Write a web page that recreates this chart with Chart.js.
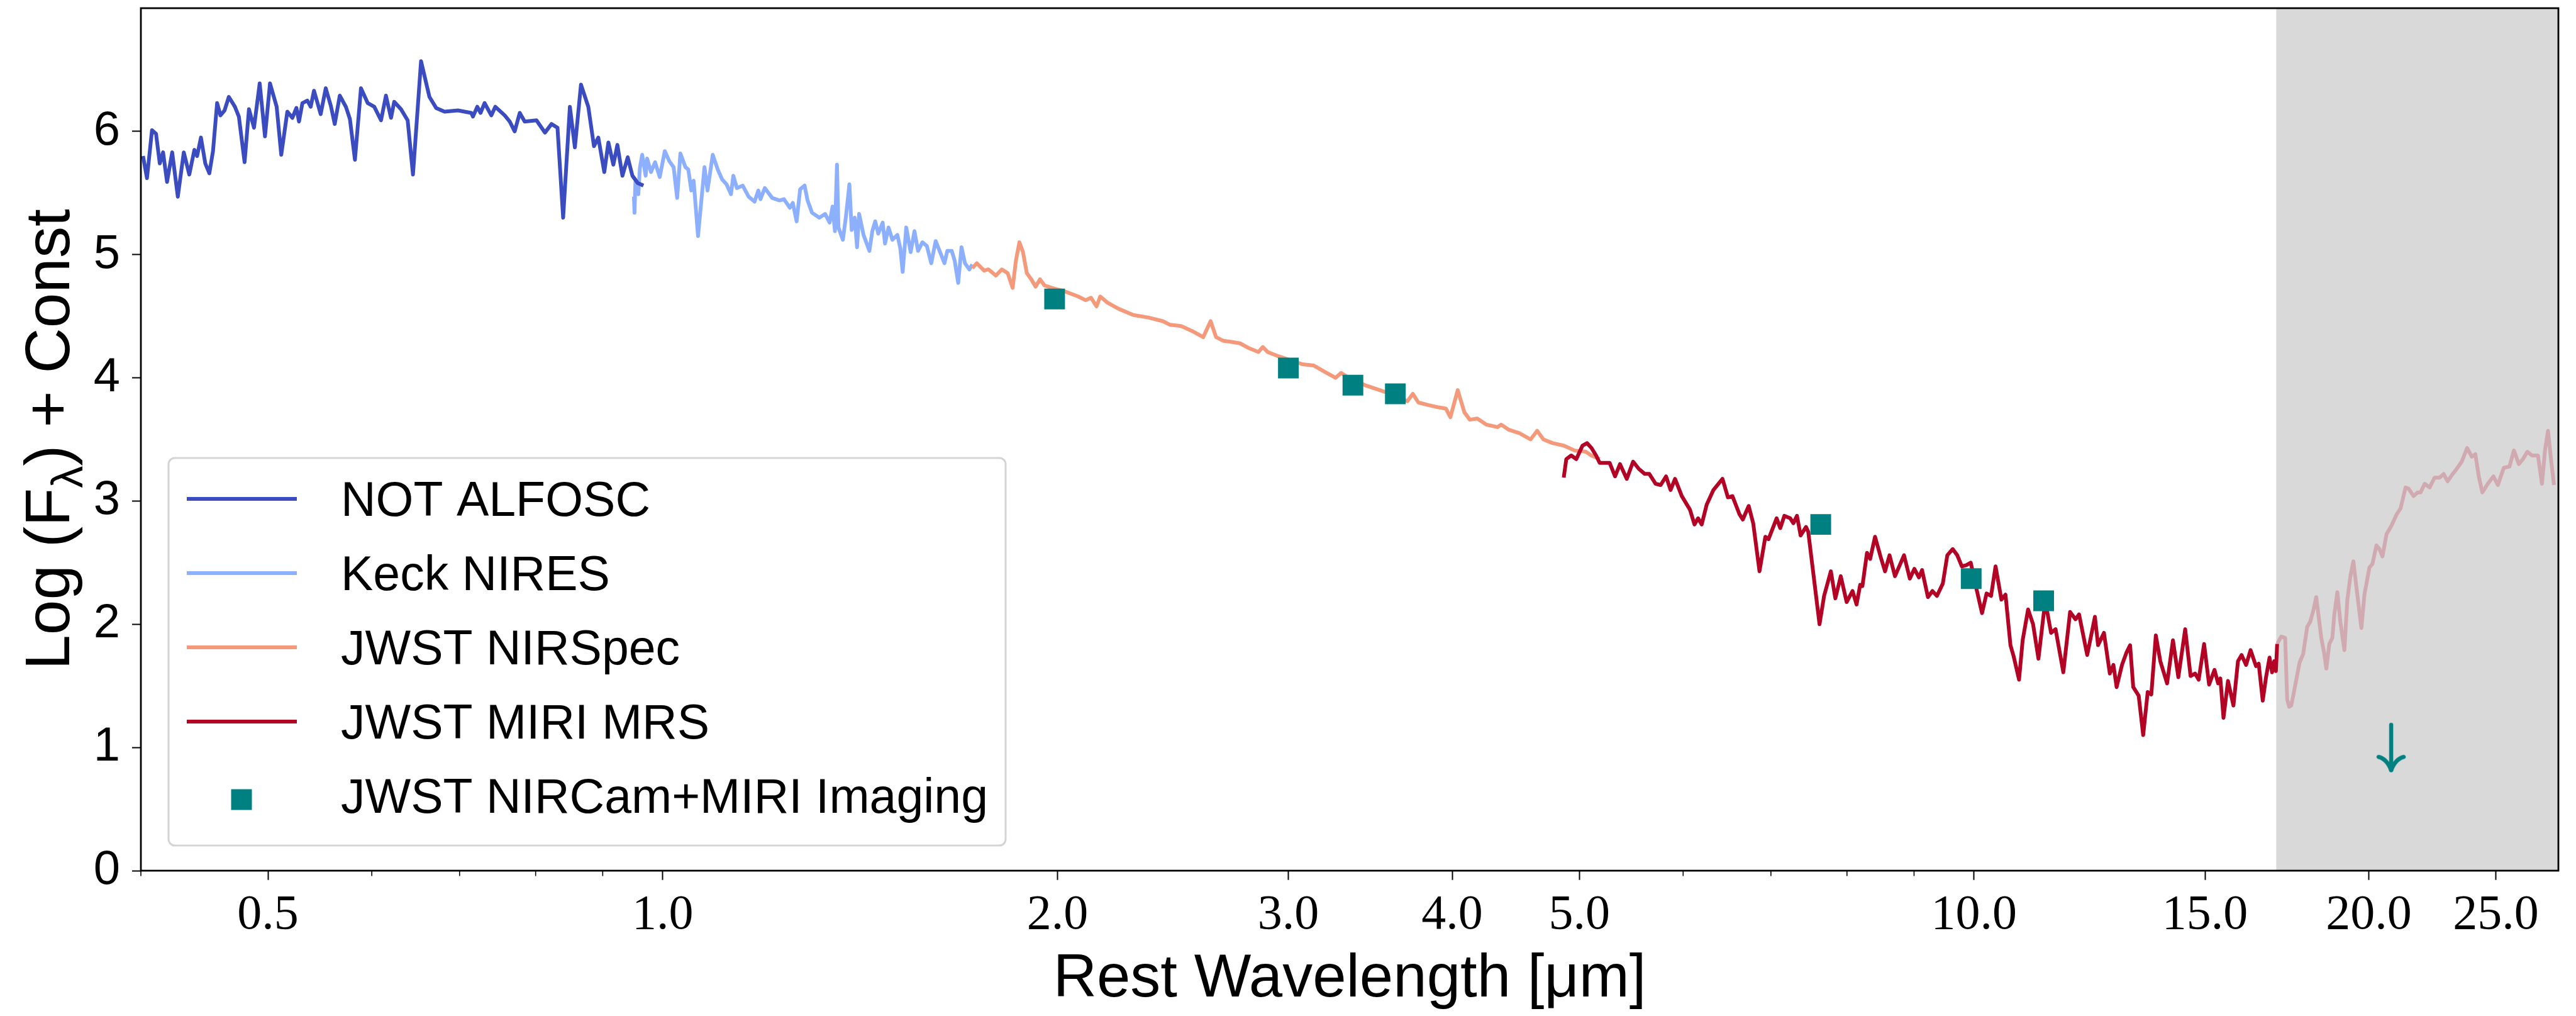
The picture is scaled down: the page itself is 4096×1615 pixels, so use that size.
<!DOCTYPE html>
<html>
<head>
<meta charset="utf-8">
<script src="https://cdn.jsdelivr.net/npm/chart.js@4.4.1/dist/chart.umd.min.js"></script>
<style>
  html, body { margin: 0; padding: 0; background: #fff; }
  #wrap { width: 4096px; height: 1615px; }
</style>
</head>
<body>
<div id="wrap"><canvas id="sed" width="4096" height="1615"></canvas></div>
<script>
'use strict';

// rest wavelength [um] / log flux + const
const notWave = [0.4015,0.4043,0.4079,0.4108,0.4135,0.4159,0.4188,0.4226,0.4268,0.4313,
  0.4355,0.4394,0.4415,0.4445,0.4479,0.4511,0.4540,0.4573,0.4600,0.4633,
  0.4668,0.4718,0.4751,0.4799,0.4836,0.4879,0.4928,0.4974,0.5018,0.5077,
  0.5118,0.5173,0.5219,0.5256,0.5280,0.5312,0.5358,0.5390,0.5421,0.5485,
  0.5534,0.5583,0.5622,0.5672,0.5733,0.5774,0.5825,0.5887,0.5957,0.6026,
  0.6098,0.6151,0.6206,0.6241,0.6316,0.6390,0.6450,0.6542,0.6639,0.6718,
  0.6818,0.6980,0.7145,0.7166,0.7221,0.7263,0.7314,0.7401,0.7453,0.7577,
  0.7644,0.7711,0.7780,0.7848,0.8012,0.8132,0.8226,0.8313,0.8396,0.8496,
  0.8571,0.8663,0.8775,0.8863,0.8931,0.9025,0.9090,0.9170,0.9235,0.9317,
  0.9404,0.9482,0.9572,0.9667];
const notFlux = [5.80,5.62,6.01,5.98,5.74,5.83,5.59,5.83,5.47,5.83,
  5.65,5.85,5.80,5.95,5.74,5.66,5.84,6.23,6.13,6.17,
  6.28,6.20,6.12,5.75,6.18,6.03,6.39,5.96,6.39,6.20,
  5.81,6.16,6.11,6.19,6.08,6.23,6.25,6.20,6.33,6.14,
  6.35,6.21,6.06,6.29,6.20,6.10,5.77,6.35,6.23,6.20,
  6.09,6.29,6.11,6.24,6.18,6.09,5.65,6.57,6.28,6.19,
  6.16,6.17,6.15,6.12,6.20,6.15,6.23,6.13,6.20,6.13,
  6.08,6.00,6.15,6.08,6.09,5.99,6.06,6.03,5.30,6.20,
  5.87,6.38,6.20,5.88,5.95,5.67,5.91,5.73,5.89,5.64,
  5.79,5.64,5.58,5.56];

const keckWave = [0.9507,0.9517,0.9532,0.9581,0.9606,0.9646,0.9705,0.9730,0.9796,0.9867,
  0.9948,1.0037,1.0115,1.0193,1.0257,1.0315,1.0407,1.0460,1.0515,1.0558,
  1.0640,1.0761,1.0818,1.0918,1.1015,1.1100,1.1186,1.1274,1.1320,1.1391,
  1.1509,1.1628,1.1750,1.1828,1.1872,1.1964,1.2119,1.2278,1.2373,1.2501,
  1.2566,1.2651,1.2729,1.2829,1.2896,1.2997,1.3165,1.3301,1.3406,1.3475,
  1.3531,1.3580,1.3615,1.3721,1.3792,1.3879,1.3935,1.4009,1.4067,1.4118,
  1.4228,1.4375,1.4449,1.4524,1.4600,1.4714,1.4775,1.4866,1.4967,1.5099,
  1.5177,1.5240,1.5336,1.5455,1.5559,1.5656,1.5777,1.5901,1.6025,1.6149,
  1.6275,1.6401,1.6482,1.6612,1.6698,1.6801,1.6898,1.7002,1.7134,1.7223];
const keckFlux = [5.47,5.34,5.59,5.49,5.70,5.81,5.64,5.78,5.67,5.75,
  5.63,5.84,5.76,5.71,5.46,5.82,5.71,5.69,5.52,5.60,
  5.15,5.71,5.52,5.81,5.69,5.61,5.57,5.49,5.64,5.54,
  5.56,5.47,5.43,5.52,5.45,5.54,5.46,5.44,5.45,5.38,
  5.42,5.27,5.53,5.56,5.44,5.34,5.30,5.33,5.26,5.39,
  5.19,5.73,5.22,5.12,5.30,5.57,5.20,5.30,5.06,5.33,
  5.16,5.03,5.19,5.27,5.17,5.26,5.09,5.22,5.12,5.16,
  5.05,4.86,5.22,5.02,5.19,5.03,5.10,5.07,4.93,5.11,
  5.02,4.93,5.03,5.03,4.95,4.77,5.06,4.93,4.88,4.92];

const nirspecWave = [1.7223,1.7358,1.7583,1.7719,1.7949,1.8137,1.8325,1.8486,1.8592,1.8707,
  1.8825,1.8952,1.9099,1.9247,1.9397,1.9548,1.9803,
  2.0277,2.0739,2.1010,2.1214,2.1420,2.1559,2.1838,2.2267,2.2851,2.3447,
  2.4062,2.4374,2.4850,2.5337,2.5832,2.6170,2.6424,2.6767,2.7204,2.7556,
  2.8004,2.8462,2.8683,2.8924,2.9394,2.9968,3.0360,3.0754,3.1356,3.1968,
  3.2595,3.2912,3.3232,3.3666,3.4323,3.4993,3.5679,3.6376,3.6970,3.7329,
  3.7692,3.8308,3.9056,3.9562,3.9869,4.0390,4.0861,4.1258,4.1798,4.2476,
  4.3306,4.3590,4.4155,4.5017,4.5900,4.6435,4.6946,4.7713,4.8644,4.9599,
  5.0568,5.1060,5.1828];
const nirspecFlux = [4.89,4.93,4.87,4.88,4.83,4.88,4.85,4.73,4.95,5.10,
  5.02,4.85,4.80,4.74,4.80,4.75,4.73,
  4.70,4.66,4.63,4.65,4.58,4.66,4.61,4.56,4.51,4.49,
  4.46,4.43,4.42,4.38,4.33,4.46,4.33,4.30,4.29,4.28,
  4.24,4.21,4.25,4.21,4.18,4.15,4.13,4.11,4.10,4.05,
  4.00,4.04,4.01,3.98,3.94,3.91,3.88,3.84,3.81,3.87,
  3.80,3.78,3.76,3.75,3.68,3.90,3.72,3.66,3.67,3.62,
  3.60,3.62,3.58,3.55,3.50,3.57,3.50,3.47,3.45,3.41,
  3.40,3.37,3.34];

const miriWave = [4.8653,4.8869,4.9298,4.9736,5.0284,5.0684,5.1087,5.1493,5.1821,5.2232,
  5.2735,5.3237,5.3705,5.4347,5.4955,5.5520,5.6096,5.6541,5.7175,5.7677,
  5.8226,5.8688,5.9155,5.9862,6.0723,6.1206,6.1596,6.1988,6.2532,6.3279,
  6.4291,6.4910,6.5426,6.6256,6.6629,6.7320,6.7855,6.8609,6.9319,6.9703,
  7.0706,7.1157,7.1670,7.2413,7.2815,7.3279,7.3746,7.4447,7.4743,7.6238,
  7.6851,7.7769,7.8386,7.9133,7.9954,8.0783,8.1358,8.1877,8.2200,8.2862,
  8.3321,8.4045,8.4854,8.5529,8.6209,8.7039,8.8428,8.9337,9.0047,9.0771,
  9.1274,9.2221,9.2952,9.3690,9.4662,9.5414,9.6324,9.7097,9.7869,9.8646,
  9.9421,10.021,10.141,10.222,10.303,10.385,10.492,10.568,10.660,10.720,
  10.822,10.891,10.995,11.092,11.197,11.331,11.448,11.539,11.697,11.837,
  11.950,12.025,12.198,12.364,12.433,12.562,12.692,12.773,12.844,12.966,
  13.069,13.152,13.225,13.352,13.458,13.565,13.651,13.760,13.869,14.035,
  14.180,14.315,14.488,14.626,14.742,14.836,14.977,15.109,15.253,15.350,
  15.411,15.496,15.619,15.769,15.895,15.996,16.123,16.251,16.406,16.484,
  16.601,16.698,16.801,16.876,16.940,16.990,
  17.027,17.148,17.268,17.329,17.391,17.452,17.544,17.638,17.712,17.824,
  17.950,18.045,18.142,18.237,18.335,18.399,18.496,18.563,18.660,18.759,
  18.826,18.925,19.025,19.160,19.261,19.364,19.466,19.570,19.741,19.847,
  20.021,20.128,20.270,20.378,20.486,20.631,20.813,20.998,21.147,21.333,
  21.447,21.636,21.789,21.904,22.060,22.254,22.451,22.648,22.809,22.969,
  23.173,23.297,23.545,23.769,23.962,24.115,24.260,24.414,24.647,24.893,
  25.086,25.351,25.604,25.803,26.029,26.214,26.418,26.632,26.916,27.108,
  27.250,27.396,27.540,27.685];
const miriFlux = [3.19,3.34,3.37,3.34,3.45,3.47,3.43,3.37,3.31,3.31,
  3.31,3.20,3.30,3.18,3.32,3.26,3.22,3.22,3.14,3.13,
  3.20,3.09,3.18,3.04,2.93,2.81,2.86,2.81,2.97,3.09,
  3.18,3.03,3.04,2.89,2.85,2.96,2.82,2.43,2.71,2.69,
  2.86,2.78,2.88,2.86,2.82,2.88,2.72,2.79,2.75,2.00,
  2.23,2.43,2.21,2.39,2.18,2.27,2.16,2.32,2.31,2.58,
  2.53,2.71,2.55,2.43,2.56,2.39,2.56,2.37,2.45,2.38,
  2.44,2.22,2.27,2.23,2.33,2.56,2.61,2.56,2.47,2.48,
  2.50,2.33,2.09,2.25,2.23,2.47,2.20,2.24,1.83,1.74,
  1.55,1.87,2.12,2.00,1.72,2.19,1.93,1.96,1.61,2.10,
  2.04,2.08,1.75,2.06,1.83,1.93,1.60,1.67,1.49,1.67,
  1.77,1.83,1.49,1.42,1.10,1.45,1.43,1.91,1.70,1.52,
  1.87,1.57,1.96,1.58,1.60,1.55,1.84,1.51,1.63,1.52,
  1.56,1.24,1.54,1.34,1.70,1.75,1.67,1.79,1.66,1.68,
  1.38,1.57,1.73,1.61,1.70,1.62,
  1.84,1.90,1.89,1.39,1.33,1.34,1.46,1.59,1.69,1.76,
  1.98,2.02,2.11,2.22,2.02,1.89,1.76,1.64,1.84,1.89,
  2.08,2.26,2.02,1.79,2.20,2.39,2.51,2.30,1.97,2.24,
  2.46,2.49,2.64,2.61,2.55,2.73,2.80,2.89,2.94,3.11,
  3.10,3.04,3.07,3.07,3.14,3.11,3.19,3.19,3.22,3.16,
  3.22,3.25,3.32,3.43,3.36,3.38,3.20,3.07,3.14,3.20,
  3.13,3.27,3.28,3.41,3.30,3.34,3.40,3.37,3.37,3.14,
  3.41,3.57,3.34,3.13];

const photWave = [1.99, 3.00, 3.36, 3.62, 7.64, 9.95, 11.30];
const photFlux = [4.64, 4.08, 3.94, 3.87, 2.81, 2.37, 2.19];
const limitWave = [20.8];
const limitFlux = [1.0];

const xMajorTicks = [0.5, 1, 2, 3, 4, 5, 10, 15, 20, 25];
const xMinorTicks = [0.4, 0.6, 0.7, 0.8, 0.9, 6, 7, 8, 9];
const yTicks = [0, 1, 2, 3, 4, 5, 6];
const grayFrom = 17;   // shaded long-wavelength region

const cNot = '#3b4cc0';
const cKeck = '#8db0fe';
const cNirspec = '#f49a7b';
const cMiri = '#b40426';
const cMiriFaded = 'rgba(180, 4, 38, 0.22)';
const cPhot = '#008080';

function toPoints(w, f) {
    return w.map((x, i) => ({ x: x, y: f[i] }));
}

// \downarrow style marker for the upper limit
function makeArrow() {
    const c = document.createElement('canvas');
    c.width = 48;
    c.height = 80;
    const g = c.getContext('2d');
    g.strokeStyle = cPhot;
    g.lineWidth = 6.5;
    g.lineCap = 'round';
    const cx = 24, tip = 76;
    g.beginPath(); g.moveTo(cx, 4); g.lineTo(cx, tip); g.stroke();
    g.beginPath(); g.moveTo(cx - 20, tip - 21); g.quadraticCurveTo(cx - 7, tip - 18, cx, tip); g.stroke();
    g.beginPath(); g.moveTo(cx + 20, tip - 21); g.quadraticCurveTo(cx + 7, tip - 18, cx, tip); g.stroke();
    return c;
}

const bandPlugin = {
    id: 'band',
    beforeDatasetsDraw(chart) {
        const { ctx, chartArea: a } = chart;
        const x0 = chart.scales.x.getPixelForValue(grayFrom);
        ctx.save();
        ctx.fillStyle = '#d9d9d9';
        ctx.fillRect(x0, a.top, a.right - x0, a.bottom - a.top);
        ctx.restore();
    }
};

const framePlugin = {
    id: 'frame',
    afterDatasetsDraw(chart) {
        const { ctx, chartArea: a } = chart;
        const x = chart.scales.x;
        ctx.save();
        ctx.strokeStyle = '#000';
        ctx.lineWidth = 1.6;
        xMinorTicks.forEach(v => {
            const px = x.getPixelForValue(v);
            ctx.beginPath();
            ctx.moveTo(px, a.bottom);
            ctx.lineTo(px, a.bottom + 8.5);
            ctx.stroke();
        });
        ctx.lineWidth = 2.8;
        ctx.strokeRect(a.left, a.top, a.right - a.left, a.bottom - a.top);
        ctx.restore();
    }
};

// y title has a subscript, so it is drawn here
const yTitlePlugin = {
    id: 'yTitle',
    afterDraw(chart) {
        const { ctx, chartArea: a } = chart;
        const big = '100px "Liberation Sans"', small = '70px "Liberation Sans"';
        const parts = [['Log (F', big, 0], ['λ', small, 21], [') + Const', big, 0]];
        ctx.save();
        let total = 0;
        parts.forEach(p => { ctx.font = p[1]; p.push(ctx.measureText(p[0]).width); total += p[3]; });
        ctx.translate(110, (a.top + a.bottom) / 2);
        ctx.rotate(-Math.PI / 2);
        ctx.fillStyle = '#000';
        ctx.textBaseline = 'alphabetic';
        let pos = -total / 2;
        parts.forEach(p => {
            ctx.font = p[1];
            ctx.fillText(p[0], pos, p[2]);
            pos += p[3];
        });
        ctx.restore();
    }
};

const legendPlugin = {
    id: 'boxLegend',
    afterDraw(chart) {
        const ctx = chart.ctx;
        const items = chart.data.datasets.filter(d => d.legendRow !== undefined)
            .sort((p, q) => p.legendRow - q.legendRow);
        const bx = 268, by = 728, bw = 1331, bh = 616;
        ctx.save();
        ctx.beginPath();
        ctx.roundRect(bx, by, bw, bh, 10);
        ctx.fillStyle = 'rgba(255,255,255,0.8)';
        ctx.fill();
        ctx.lineWidth = 3;
        ctx.strokeStyle = '#d4d4d4';
        ctx.stroke();
        ctx.font = '77px "Liberation Sans"';
        ctx.textBaseline = 'alphabetic';
        items.forEach((d, i) => {
            const ry = 793 + i * 118;
            if (d.showLine === false) {
                ctx.fillStyle = d.backgroundColor;
                ctx.fillRect(384 - 16.5, ry + 6 - 16.5, 33, 33);
            } else {
                ctx.strokeStyle = d.borderColor;
                ctx.lineWidth = 5.8;
                ctx.beginPath();
                ctx.moveTo(297, ry);
                ctx.lineTo(472, ry);
                ctx.stroke();
            }
            ctx.fillStyle = '#000';
            ctx.fillText(d.label, 542, ry + 27);
        });
        ctx.restore();
    }
};

function lineSet(label, w, f, color, row, order) {
    return {
        label: label,
        data: toPoints(w, f),
        borderColor: color,
        backgroundColor: color,
        borderWidth: 6,
        borderJoinStyle: 'round',
        pointRadius: 0,
        tension: 0,
        legendRow: row,
        order: order
    };
}

window.onload = function () {
    const miri = lineSet('JWST MIRI MRS', miriWave, miriFlux, cMiri, 3, 2);
    miri.segment = {
        borderColor: c => (miriWave[c.p0DataIndex] >= grayFrom ? cMiriFaded : cMiri)
    };

    new Chart(document.getElementById('sed'), {
        type: 'line',
        data: {
            datasets: [
                lineSet('NOT ALFOSC', notWave, notFlux, cNot, 0, 3),
                lineSet('Keck NIRES', keckWave, keckFlux, cKeck, 1, 5),
                lineSet('JWST NIRSpec', nirspecWave, nirspecFlux, cNirspec, 2, 4),
                miri,
                {
                    label: 'JWST NIRCam+MIRI Imaging',
                    data: toPoints(photWave, photFlux),
                    showLine: false,
                    pointStyle: 'rect',
                    pointRadius: 23.3,
                    pointBackgroundColor: cPhot,
                    backgroundColor: cPhot,
                    borderColor: cPhot,
                    pointBorderWidth: 0,
                    legendRow: 4,
                    order: 1
                },
                {
                    label: 'upper limit',
                    data: toPoints(limitWave, limitFlux),
                    showLine: false,
                    pointStyle: makeArrow(),
                    pointRadius: 10,
                    order: 0
                }
            ]
        },
        options: {
            responsive: false,
            animation: false,
            devicePixelRatio: 1,
            layout: { autoPadding: false, padding: { top: 13, right: 28, left: 0, bottom: 0 } },
            plugins: { legend: { display: false }, tooltip: { enabled: false } },
            scales: {
                x: {
                    type: 'logarithmic',
                    min: 0.4,
                    max: 27.9,
                    afterBuildTicks: s => { s.ticks = xMajorTicks.map(v => ({ value: v })); },
                    afterFit: s => { s.height = 231; s.paddingLeft = 0; s.paddingRight = 0; },
                    ticks: {
                        autoSkip: false, maxRotation: 0, minRotation: 0, padding: 10,
                        color: '#000',
                        font: { family: 'Liberation Serif', size: 78 },
                        callback: v => Number(v).toFixed(1)
                    },
                    grid: { drawOnChartArea: false, drawTicks: true, tickLength: 14.7, tickWidth: 2, tickColor: '#000' },
                    border: { display: false },
                    title: {
                        display: true, text: 'Rest Wavelength [μm]', color: '#000',
                        font: { family: 'Liberation Sans', size: 96 }, padding: 0
                    }
                },
                y: {
                    min: 0,
                    max: 7,
                    afterBuildTicks: s => { s.ticks = yTicks.map(v => ({ value: v })); },
                    afterFit: s => { s.width = 224; s.paddingTop = 0; s.paddingBottom = 0; },
                    ticks: {
                        padding: 19, color: '#000',
                        font: { family: 'Liberation Sans', size: 76 },
                        callback: v => String(v)
                    },
                    grid: { drawOnChartArea: false, drawTicks: true, tickLength: 14, tickWidth: 2, tickColor: '#000' },
                    border: { display: false }
                }
            }
        },
        plugins: [bandPlugin, framePlugin, yTitlePlugin, legendPlugin]
    });
};
</script>
</body>
</html>
